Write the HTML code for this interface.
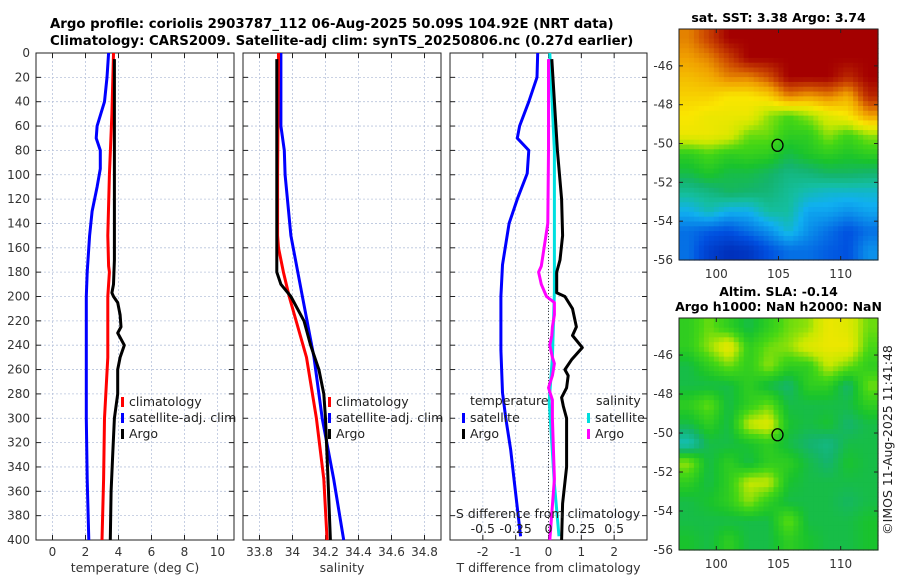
<!DOCTYPE html>
<html><head><meta charset="utf-8"><style>
html,body{margin:0;padding:0;background:#fff;}
svg{display:block;font-family:"DejaVu Sans","Liberation Sans",sans-serif;}
</style></head><body>
<svg id="fig" width="900" height="580" viewBox="0 0 900 580" xmlns="http://www.w3.org/2000/svg">
<text x="50" y="28" font-size="13.3" font-weight="bold">Argo profile: coriolis 2903787_112 06-Aug-2025 50.09S 104.92E (NRT data)</text>
<text x="50" y="45" font-size="13.3" font-weight="bold">Climatology: CARS2009. Satellite-adj clim: synTS_20250806.nc (0.27d earlier)</text>
<g id="g"></g>
</svg>
<script>
// ---- data ----
const tSatDepth=[0,20,40,60,70,80,95,110,130,150,180,200,250,300,350,400];
const tSatVal=[3.4,3.3,3.15,2.7,2.65,2.9,2.9,2.7,2.4,2.25,2.1,2.05,2.05,2.05,2.1,2.2];
const tClimDepth=[0,50,100,150,175,180,200,250,300,350,400];
const tClimVal=[3.7,3.6,3.45,3.35,3.4,3.45,3.35,3.35,3.15,3.1,3.0];
const tArgoDepth=[5,170,190,197,200,205,215,225,230,240,250,260,280,300,330,360,400];
const tArgoVal=[3.75,3.75,3.7,3.6,3.7,3.95,4.1,4.15,3.95,4.35,4.1,3.95,3.95,3.75,3.65,3.55,3.5];
const sSatDepth=[0,60,80,100,150,200,250,300,350,400];
const sSatVal=[33.93,33.93,33.95,33.955,33.99,34.06,34.13,34.18,34.25,34.31];
const sClimDepth=[0,100,150,160,180,200,250,300,350,400];
const sClimVal=[33.915,33.91,33.91,33.915,33.945,33.98,34.085,34.145,34.19,34.21];
const sArgoDepth=[5,180,190,200,220,240,260,280,300,350,400];
const sArgoVal=[33.905,33.905,33.93,33.99,34.07,34.11,34.16,34.19,34.2,34.215,34.23];
const dTSatDepth=[0,20,40,60,70,80,99,120,140,174,200,244,279,300,326,350,397];
const dTSatVal=[-0.33,-0.35,-0.6,-0.88,-0.95,-0.6,-0.65,-0.95,-1.2,-1.4,-1.45,-1.45,-1.4,-1.3,-1.15,-1.05,-0.85];
const dSSatDepth=[0,80,150,196,250,286,354,397];
const dSSatVal=[0.01,0.045,0.045,0.045,0.03,0.005,0.045,0.08];
const dSArgoDepth=[5,80,140,175,180,190,200,205,215,225,232,240,250,255,265,275,285,300,350,400];
const dSArgoVal=[0,0,-0.005,-0.055,-0.075,-0.055,-0.015,0.045,0.045,0.03,0.025,0.01,0.03,0.045,0.03,0,0.03,0.03,0.045,0.01];
const dTArgoDepth=[5,80,120,150,170,180,197,200,210,225,232,242,252,260,265,275,283,290,300,340,370,400];
const dTArgoVal=[0.1,0.27,0.4,0.43,0.35,0.25,0.25,0.5,0.73,0.85,0.73,1.03,0.7,0.5,0.6,0.55,0.4,0.45,0.55,0.55,0.43,0.4];
const depthTicks=[0,20,40,60,80,100,120,140,160,180,200,220,240,260,280,300,320,340,360,380,400];
const tTicks=[0,2,4,6,8,10];
const sTicks=[33.8,34,34.2,34.4,34.6,34.8];
const sTickLabels=["33.8","34","34.2","34.4","34.6","34.8"];
const dTTicks=[-2,-1,0,1,2];
const dSTicks=[-0.5,-0.25,0,0.25,0.5];
const sstGrid=[
[0.85,0.92,1,1,1,1,1,1,1,1],
[0.82,0.85,0.92,1,1,1,1,1,1,1],
[0.78,0.8,0.85,0.85,0.9,1,1,1,0.95,1],
[0.75,0.75,0.72,0.72,0.75,0.85,0.82,0.85,0.8,0.95],
[0.72,0.7,0.7,0.7,0.62,0.58,0.62,0.68,0.72,0.82],
[0.7,0.7,0.68,0.6,0.6,0.55,0.55,0.62,0.57,0.62],
[0.55,0.58,0.55,0.56,0.55,0.5,0.53,0.55,0.53,0.55],
[0.5,0.53,0.5,0.5,0.48,0.45,0.46,0.48,0.48,0.47],
[0.43,0.45,0.48,0.47,0.46,0.43,0.4,0.38,0.38,0.38],
[0.35,0.4,0.35,0.35,0.42,0.42,0.33,0.33,0.3,0.33],
[0.25,0.22,0.2,0.25,0.3,0.38,0.3,0.25,0.2,0.25],
[0.25,0.15,0.1,0.12,0.2,0.25,0.25,0.22,0.2,0.3]];
const slaGrid=[
[0.55,0.6,0.55,0.5,0.55,0.6,0.62,0.7,0.68,0.6],
[0.55,0.62,0.7,0.55,0.6,0.62,0.68,0.7,0.7,0.58],
[0.5,0.55,0.6,0.55,0.62,0.55,0.55,0.65,0.6,0.55],
[0.5,0.5,0.5,0.55,0.5,0.47,0.55,0.55,0.47,0.6],
[0.55,0.6,0.5,0.55,0.6,0.5,0.5,0.5,0.5,0.55],
[0.5,0.55,0.5,0.65,0.68,0.52,0.5,0.52,0.47,0.5],
[0.4,0.5,0.5,0.52,0.55,0.5,0.47,0.45,0.5,0.5],
[0.62,0.5,0.55,0.5,0.55,0.55,0.5,0.47,0.52,0.5],
[0.55,0.5,0.55,0.65,0.65,0.52,0.5,0.5,0.5,0.5],
[0.5,0.52,0.55,0.62,0.55,0.5,0.5,0.5,0.48,0.5],
[0.5,0.5,0.5,0.5,0.5,0.6,0.5,0.5,0.5,0.52],
[0.52,0.5,0.55,0.5,0.5,0.55,0.52,0.5,0.5,0.52]];
const latTicks=[-46,-48,-50,-52,-54,-56];
const lonTicks=[100,105,110];
const argoLon=104.92, argoLat=-50.09;

// ---- helpers ----
const NS="http://www.w3.org/2000/svg";
const root=document.getElementById('g');
function mk(tag,attrs,parent){const e=document.createElementNS(NS,tag);for(const k in attrs)e.setAttribute(k,attrs[k]);(parent||root).appendChild(e);return e;}
function txt(s,attrs,parent){const e=mk('text',attrs,parent);e.textContent=s;return e;}
const Y0=53,Y1=540;
const yD=d=>Y0+(Y1-Y0)*d/400;

function panel(name,x0,x1,xmin,xmax,xticks,xlabels,title,showY){
  const sx=v=>x0+(x1-x0)*(v-xmin)/(xmax-xmin);
  const g=mk('g',{});
  
  
  depthTicks.forEach(d=>{
    const l=mk('line',{x1:x0,x2:x1,y1:yD(d),y2:yD(d),stroke:'#b8c4dc','stroke-width':0.8,'stroke-dasharray':'2,2'},g);
    
    
    mk('line',{x1:x0,x2:x0+5,y1:yD(d),y2:yD(d),stroke:'#222'},g);
    mk('line',{x1:x1-5,x2:x1,y1:yD(d),y2:yD(d),stroke:'#222'},g);
    if(showY){const t=txt(String(d),{x:x0-6,y:yD(d)+4,'font-size':12,'text-anchor':'end',fill:'#333'},g);
      
      }
  });
  xticks.forEach((v,i)=>{
    const l=mk('line',{x1:sx(v),x2:sx(v),y1:Y0,y2:Y1,stroke:'#b8c4dc','stroke-width':0.8,'stroke-dasharray':'2,2'},g);
    
    
    mk('line',{x1:sx(v),x2:sx(v),y1:Y1,y2:Y1-5,stroke:'#222'},g);
    mk('line',{x1:sx(v),x2:sx(v),y1:Y0,y2:Y0+5,stroke:'#222'},g);
    const t=txt(xlabels[i],{x:sx(v),y:556,'font-size':12,'text-anchor':'middle',fill:'#333'},g);
    
    
  });
  const b=mk('rect',{x:x0,y:Y0,width:x1-x0,height:Y1-Y0,fill:'none',stroke:'#222','stroke-width':1},g);
  
  
  const at=txt(title,{x:(x0+x1)/2,y:572,'font-size':12.5,'text-anchor':'middle',fill:'#333'},g);
  
  
  return sx;
}
function line(sx,depths,vals,color,name){
  const p=depths.map((d,i)=>(i?'L':'M')+sx(vals[i]).toFixed(1)+','+yD(d).toFixed(1)).join('');
  const e=mk('path',{d:p,fill:'none',stroke:color,'stroke-width':3,'stroke-linejoin':'round'});
  
  
}
function legend(x,y,items){
  items.forEach((it,i)=>{
    const yy=y+i*16;
    mk('rect',{x:x,y:yy-9,width:3,height:10,fill:it[1]});
    const t=txt(it[0],{x:x+8,y:yy,'font-size':12.5,fill:'#222'});
    
    
  });
}

// panel 1 temperature
const sxT=panel('temperature-panel',36,234,-1,11,tTicks,tTicks.map(String),'temperature (deg C)',true);
line(sxT,tSatDepth,tSatVal,'#0000ff','temp-satellite-line');
line(sxT,tClimDepth,tClimVal,'#ff0000','temp-climatology-line');
line(sxT,tArgoDepth,tArgoVal,'#000','temp-argo-line');
legend(121,406,[['climatology','#f00'],['satellite-adj. clim','#00f'],['Argo','#000']]);

// panel 2 salinity
const sxS=panel('salinity-panel',243,441,33.7,34.9,sTicks,sTickLabels,'salinity',false);
line(sxS,sSatDepth,sSatVal,'#0000ff','sal-satellite-line');
line(sxS,sClimDepth,sClimVal,'#ff0000','sal-climatology-line');
line(sxS,sArgoDepth,sArgoVal,'#000','sal-argo-line');
legend(328,406,[['climatology','#f00'],['satellite-adj. clim','#00f'],['Argo','#000']]);

// panel 3 differences
const sxD=panel('difference-panel',450,647,-3,3,dTTicks,dTTicks.map(String),'T difference from climatology',false);
const sxDS=v=>sxD(v*4);
mk('line',{x1:sxD(0),x2:sxD(0),y1:Y0,y2:Y1,stroke:'#444','stroke-width':1,'stroke-dasharray':'1,2'});
line(sxD,dTSatDepth,dTSatVal,'#0000ff','tdiff-satellite-line');
line(sxDS,dSSatDepth,dSSatVal,'#00e0e0','sdiff-satellite-line');
line(sxDS,dSArgoDepth,dSArgoVal,'#ff00ff','sdiff-argo-line');
line(sxD,dTArgoDepth,dTArgoVal,'#000','tdiff-argo-line');
txt('temperature',{x:470,y:405,'font-size':12.5,fill:'#222'});
legend(462,422,[['satellite','#00f'],['Argo','#000']]);
txt('salinity',{x:596,y:405,'font-size':12.5,fill:'#222'});
legend(587,422,[['satellite','#0dd'],['Argo','#f0f']]);
const st=txt('S difference from climatology',{x:548,y:518,'font-size':12.5,'text-anchor':'middle',fill:'#222'});


dSTicks.forEach(v=>{const t=txt(String(v),{x:sxDS(v),y:533,'font-size':12.5,'text-anchor':'middle',fill:'#222'});
  
  });

// maps
const cstops=[[0,[0,16,150]],[0.2,[0,80,224]],[0.35,[16,176,240]],[0.42,[20,190,160]],[0.47,[20,180,110]],[0.52,[25,195,45]],[0.58,[70,215,20]],[0.65,[200,232,0]],[0.72,[250,230,0]],[0.82,[240,160,0]],[0.9,[208,80,0]],[1,[164,0,0]]];
function cmap(v){for(let i=1;i<cstops.length;i++){if(v<=cstops[i][0]){const a=cstops[i-1],b=cstops[i],f=(v-a[0])/(b[0]-a[0]);return 'rgb('+a[1].map((c,k)=>Math.round(c+(b[1][k]-c)*f)).join(',')+')';}}return 'rgb(164,0,0)';}
function sample(grid,fy,fx){
  const R=grid.length,C=grid[0].length;
  const y=Math.max(0,Math.min(R-1,fy)),x=Math.max(0,Math.min(C-1,fx));
  const i=Math.floor(y),j=Math.floor(x),i2=Math.min(R-1,i+1),j2=Math.min(C-1,j+1),a=y-i,b=x-j;
  return grid[i][j]*(1-a)*(1-b)+grid[i][j2]*(1-a)*b+grid[i2][j]*a*(1-b)+grid[i2][j2]*a*b;
}
function map(name,x0,y0,x1,y1,latTop,grid,titles){
  const g=mk('g',{});
  
  
  const lonX=l=>x0+(x1-x0)*(l-97)/(113-97);
  const latY=l=>y0+(y1-y0)*(latTop-l)/(latTop+56);
  const rows=grid.length,cols=grid[0].length,UP=4;
  const nr=rows*UP,nc=cols*UP,cw=(x1-x0)/nc,ch=(y1-y0)/nr;
  for(let i=0;i<nr;i++)for(let j=0;j<nc;j++){
    const v=sample(grid,(i+0.5)/UP-0.5,(j+0.5)/UP-0.5);
    const c=mk('rect',{x:(x0+j*cw).toFixed(2),y:(y0+i*ch).toFixed(2),width:(cw+0.6).toFixed(2),height:(ch+0.6).toFixed(2),fill:cmap(v)},g);
    
    
  }
  mk('rect',{x:x0,y:y0,width:x1-x0,height:y1-y0,fill:'none',stroke:'#222'},g);
  latTicks.forEach(l=>{const y=latY(l);
    mk('line',{x1:x0,x2:x0+4,y1:y,y2:y,stroke:'#222'},g);mk('line',{x1:x1-4,x2:x1,y1:y,y2:y,stroke:'#222'},g);
    const t=txt(String(l),{x:x0-6,y:y+4,'font-size':12,'text-anchor':'end',fill:'#333'},g);
    
    });
  lonTicks.forEach(l=>{const x=lonX(l);
    mk('line',{x1:x,x2:x,y1:y1,y2:y1-4,stroke:'#222'},g);mk('line',{x1:x,x2:x,y1:y0,y2:y0+4,stroke:'#222'},g);
    const t=txt(String(l),{x:x,y:y1+18,'font-size':12,'text-anchor':'middle',fill:'#333'},g);
    
    });
  const m=mk('ellipse',{cx:lonX(argoLon),cy:latY(argoLat),rx:5.5,ry:6,fill:'none',stroke:'#000','stroke-width':1.3},g);
  
  
  titles.forEach((s,i)=>{const t=txt(s,{x:(x0+x1)/2,y:y0-7-(titles.length-1-i)*15,'font-size':12.5,'font-weight':'bold','text-anchor':'middle'},g);
    
    });
}
map('sst-map',679,29,878,260,-44.1,sstGrid,['sat. SST: 3.38 Argo: 3.74']);
map('sla-map',679,318,878,550,-44.1,slaGrid,['Altim. SLA: -0.14','Argo h1000: NaN h2000: NaN']);
const cp=txt('©IMOS 11-Aug-2025 11:41:48',{x:0,y:0,'font-size':12.5,'text-anchor':'middle',fill:'#222',transform:'translate(892,440) rotate(-90)'});


</script>
</body></html>
